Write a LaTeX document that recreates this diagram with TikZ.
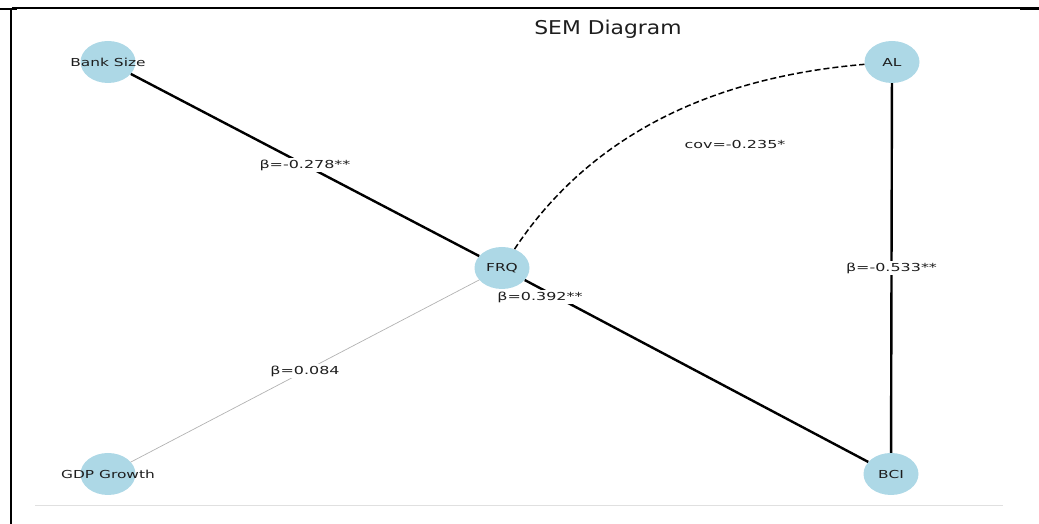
\documentclass[tikz,border=0pt]{standalone}
\usepackage{fontspec}
\usetikzlibrary{shapes.geometric}
\setmainfont{DejaVu Sans}
\newfontfamily\wideA[FakeStretch=1.4]{DejaVu Sans}
\newfontfamily\wideB[FakeStretch=1.45]{DejaVu Sans}
\newfontfamily\wideT[FakeStretch=1.15]{DejaVu Sans}
\definecolor{nodeblue}{RGB}{173,216,230}
\definecolor{txt}{RGB}{30,30,30}
\newcommand{\ctext}[1]{\makebox[0pt]{#1}}
\begin{document}
\begin{tikzpicture}[x=1pt,y=1pt,
  varnode/.style={ellipse, fill=nodeblue, minimum width=55pt, minimum height=42pt, inner sep=0pt, font=\wideA\fontsize{11}{13}\selectfont, text=txt},
  strong/.style={line width=2.4pt, black},
  weak/.style={line width=0.7pt, black!30},
  covline/.style={line width=1.5pt, black, dash pattern=on 6pt off 3pt},
  elabel/.style={fill=white, inner sep=1.5pt, font=\wideB\fontsize{11}{13}\selectfont, text=txt}]
\useasboundingbox (0,0) rectangle (1039,524);
% frame
\draw[line width=1.2pt] (12,516) -- (1039,516);
\draw[line width=2pt] (0,515) -- (17,515);
\draw[line width=2pt] (1020,515) -- (1039,515);
\draw[line width=1.6pt] (11,516) -- (11,0);
\draw[line width=0.8pt, black!12] (35,19) -- (1003,19);
% title
\node[font=\wideT\fontsize{19}{22}\selectfont, text=txt] (title) at (608,495) {SEM Diagram};
% nodes
\node[varnode] (bank) at (108,462) {\ctext{Bank Size}};
\node[varnode] (al) at (892,462) {\ctext{AL}};
\node[varnode] (frq) at (502,256) {\ctext{FRQ}};
\node[varnode] (gdp) at (108,50) {\ctext{GDP Growth}};
\node[varnode] (bci) at (891,50) {\ctext{BCI}};
% edges
\draw[weak] (frq) -- node[elabel, pos=0.5] {β=0.084} (gdp);
\draw[strong] (bank) -- node[elabel, pos=0.5] {β=-0.278**} (frq);
\draw[strong] (frq) -- (bci);
\node[elabel] (lab392) at (540,227) {β=0.392**};
\draw[strong] (al) -- node[elabel, pos=0.5] {β=-0.533**} (bci);
\draw[covline] (frq) .. controls (587,384) and (704,446) .. (al);
\node[elabel] (covlab) at (735,379) {cov=-0.235*};
\end{tikzpicture}
\end{document}
